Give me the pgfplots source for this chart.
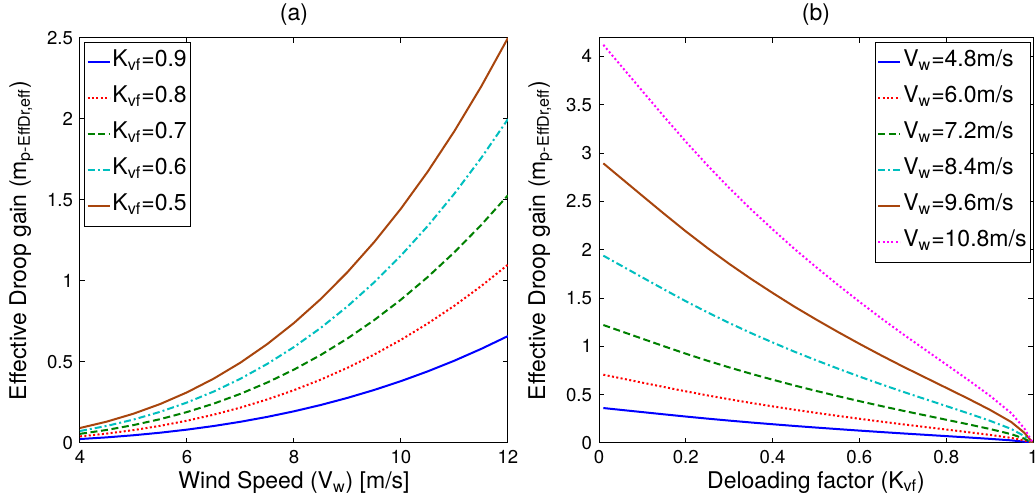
\documentclass[border=0pt]{standalone}
\usepackage{fontspec}
\setmainfont{TeX Gyre Heros}
\usepackage{pgfplots}
\pgfplotsset{compat=1.18}

\definecolor{mblue}{rgb}{0,0,1}
\definecolor{mred}{rgb}{1,0,0}
\definecolor{mgreen}{rgb}{0,0.5,0}
\definecolor{mcyan}{rgb}{0,0.75,0.75}
\definecolor{mbrown}{rgb}{0.66,0.27,0.05}
\definecolor{mmag}{rgb}{1,0,1}

\pgfplotsset{
  mstyle/.style={
    scale only axis,
    height=202.5pt,
    axis line style={line width=0.5pt},
    tick style={black, line width=0.5pt},
    major tick length=2.5pt,
    tick align=inside,
    /pgf/number format/assume math mode=true,
    tick label style={font=\fontsize{9.3}{11}\selectfont},
    label style={font=\fontsize{11.5}{13}\selectfont},
    xlabel style={yshift=3pt},
    every axis title shift=0pt,
    title style={font=\fontsize{11.5}{13}\selectfont, at={(0.5,1)}, anchor=center, yshift=11.5pt},
    legend cell align=left,
    legend style={font=\fontsize{11.5}{13}\selectfont, draw=black, line width=0.5pt,
      inner sep=1pt, row sep=0pt,
      nodes={inner sep=1pt, text height=10pt, text depth=6pt}},
    legend image code/.code={\draw[##1] (0pt,0pt) -- (11pt,0pt);},
  },
  solidl/.style={line width=1pt},
  dotl/.style={line width=1pt, dash pattern=on 1pt off 1.2pt},
  dashl/.style={line width=1pt, dash pattern=on 3.5pt off 1.8pt},
  dashdotl/.style={line width=1pt, dash pattern=on 3.5pt off 1.5pt on 1pt off 1.5pt},
}

\begin{document}
\begin{tikzpicture}
% ---------------- (a) ----------------
\begin{axis}[mstyle,
    at={(40pt,30pt)}, anchor=south west,
    width=214pt,
    xmin=4, xmax=12, ymin=0, ymax=2.5,
    xtick={4,6,8,10,12},
    ytick={0,0.5,1,1.5,2,2.5},
    title={(a)},
    xlabel={Wind Speed (V\textsubscript{w}) [m/s]},
    ylabel={Effective Droop gain (m\textsubscript{p-EffDr,eff})},
    legend style={at={(0,1)}, anchor=north west, xshift=2pt, yshift=-2pt},
]
\addplot[mblue, solidl] coordinates {
(4,0.0244) (4.5,0.0348) (5,0.0478) (5.5,0.0636) (6,0.0825) (6.5,0.1049) (7,0.1310) (7.5,0.1612)
(8,0.1956) (8.5,0.2346) (9,0.2785) (9.5,0.3275) (10,0.3820) (10.5,0.4422) (11,0.5084) (11.5,0.5810) (12,0.6601)};
\addlegendentry{K\textsubscript{vf}=0.9}
\addplot[mred, dotl] coordinates {
(4,0.0408) (4.5,0.0580) (5,0.0796) (5.5,0.1060) (6,0.1376) (6.5,0.1749) (7,0.2185) (7.5,0.2687)
(8,0.3261) (8.5,0.3912) (9,0.4644) (9.5,0.5461) (10,0.6370) (10.5,0.7374) (11,0.8478) (11.5,0.9688) (12,1.1007)};
\addlegendentry{K\textsubscript{vf}=0.8}
\addplot[mgreen, dashl] coordinates {
(4,0.0566) (4.5,0.0806) (5,0.1106) (5.5,0.1472) (6,0.1912) (6.5,0.2430) (7,0.3036) (7.5,0.3734)
(8,0.4531) (8.5,0.5435) (9,0.6452) (9.5,0.7588) (10,0.8850) (10.5,1.0245) (11,1.1779) (11.5,1.3460) (12,1.5293)};
\addlegendentry{K\textsubscript{vf}=0.7}
\addplot[mcyan, dashdotl] coordinates {
(4,0.0740) (4.5,0.1054) (5,0.1446) (5.5,0.1925) (6,0.2499) (6.5,0.3177) (7,0.3969) (7.5,0.4881)
(8,0.5924) (8.5,0.7105) (9,0.8435) (9.5,0.9920) (10,1.1570) (10.5,1.3394) (11,1.5400) (11.5,1.7596) (12,1.9993)};
\addlegendentry{K\textsubscript{vf}=0.6}
\addplot[mbrown, solidl] coordinates {
(4,0.0926) (4.5,0.1319) (5,0.1809) (5.5,0.2407) (6,0.3126) (6.5,0.3974) (7,0.4963) (7.5,0.6105)
(8,0.7409) (8.5,0.8886) (9,1.0549) (9.5,1.2406) (10,1.4470) (10.5,1.6751) (11,1.9260) (11.5,2.2007) (12,2.5004)};
\addlegendentry{K\textsubscript{vf}=0.5}
\end{axis}

% ---------------- (b) ----------------
\begin{axis}[mstyle,
    at={(299.5pt,30pt)}, anchor=south west,
    width=217pt,
    xmin=0, xmax=1, ymin=0, ymax=4.19,
    xtick={0,0.2,0.4,0.6,0.8,1},
    ytick={0,0.5,1,1.5,2,2.5,3,3.5,4},
    title={(b)},
    xlabel={Deloading factor (K\textsubscript{vf})},
    ylabel={Effective Droop gain (m\textsubscript{p-EffDr,eff})},
    legend style={at={(1,1)}, anchor=north east, xshift=-1pt, yshift=-2pt},
]
\addplot[mblue, solidl] coordinates {
(0.01,0.3616) (0.05,0.3429) (0.1,0.3196) (0.15,0.2964) (0.2,0.2737) (0.25,0.2521) (0.3,0.2317) (0.35,0.2123)
(0.4,0.1941) (0.45,0.1764) (0.5,0.1598) (0.55,0.1438) (0.6,0.1283) (0.65,0.1134) (0.7,0.0990) (0.75,0.0852)
(0.8,0.0713) (0.85,0.0575) (0.9,0.0431) (0.95,0.0271) (0.98,0.0133) (1,0)};
\addlegendentry{V\textsubscript{w}=4.8m/s}
\addplot[mred, dotl] coordinates {
(0.01,0.7063) (0.05,0.6698) (0.1,0.6242) (0.15,0.5789) (0.2,0.5346) (0.25,0.4925) (0.3,0.4525) (0.35,0.4147)
(0.4,0.3791) (0.45,0.3445) (0.5,0.3121) (0.55,0.2808) (0.6,0.2506) (0.65,0.2214) (0.7,0.1933) (0.75,0.1663)
(0.8,0.1393) (0.85,0.1123) (0.9,0.0842) (0.95,0.0529) (0.98,0.0259) (1,0)};
\addlegendentry{V\textsubscript{w}=6.0m/s}
\addplot[mgreen, dashl] coordinates {
(0.01,1.2205) (0.05,1.1574) (0.1,1.0787) (0.15,1.0003) (0.2,0.9238) (0.25,0.8510) (0.3,0.7820) (0.35,0.7166)
(0.4,0.6551) (0.45,0.5953) (0.5,0.5393) (0.55,0.4852) (0.6,0.4330) (0.65,0.3826) (0.7,0.3341) (0.75,0.2874)
(0.8,0.2407) (0.85,0.1941) (0.9,0.1456) (0.95,0.0914) (0.98,0.0448) (1,0)};
\addlegendentry{V\textsubscript{w}=7.2m/s}
\addplot[mcyan, dashdotl] coordinates {
(0.01,1.9381) (0.05,1.8380) (0.1,1.7129) (0.15,1.5884) (0.2,1.4669) (0.25,1.3514) (0.3,1.2417) (0.35,1.1380)
(0.4,1.0402) (0.45,0.9454) (0.5,0.8565) (0.55,0.7705) (0.6,0.6875) (0.65,0.6075) (0.7,0.5305) (0.75,0.4564)
(0.8,0.3823) (0.85,0.3082) (0.9,0.2312) (0.95,0.1452) (0.98,0.0711) (1,0)};
\addlegendentry{V\textsubscript{w}=8.4m/s}
\addplot[mbrown, solidl] coordinates {
(0.01,2.8931) (0.05,2.7436) (0.1,2.5569) (0.15,2.3711) (0.2,2.1897) (0.25,2.0172) (0.3,1.8535) (0.35,1.6987)
(0.4,1.5527) (0.45,1.4112) (0.5,1.2784) (0.55,1.1502) (0.6,1.0263) (0.65,0.9069) (0.7,0.7918) (0.75,0.6812)
(0.8,0.5707) (0.85,0.4601) (0.9,0.3450) (0.95,0.2168) (0.98,0.1062) (1,0)};
\addlegendentry{V\textsubscript{w}=9.6m/s}
\addplot[mmag, dotl] coordinates {
(0.01,4.1193) (0.05,3.9064) (0.1,3.6406) (0.15,3.3760) (0.2,3.1178) (0.25,2.8721) (0.3,2.6391) (0.35,2.4186)
(0.4,2.2108) (0.45,2.0092) (0.5,1.8203) (0.55,1.6376) (0.6,1.4613) (0.65,1.2912) (0.7,1.1274) (0.75,0.9700)
(0.8,0.8125) (0.85,0.6551) (0.9,0.4913) (0.95,0.3086) (0.98,0.1512) (1,0)};
\addlegendentry{V\textsubscript{w}=10.8m/s}
\end{axis}
\pgfresetboundingbox
\path[use as bounding box] (0,0) rectangle (517.5pt,251.5pt);
\end{tikzpicture}
\end{document}
